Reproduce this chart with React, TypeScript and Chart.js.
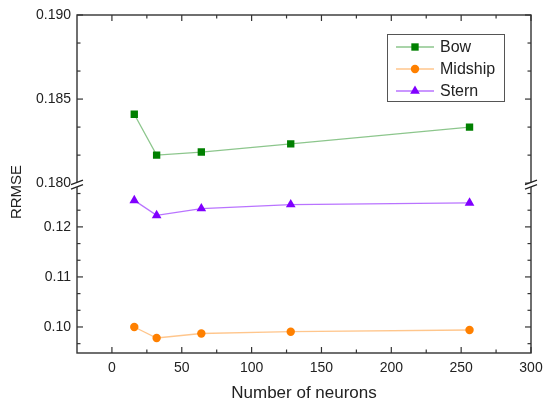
import React, { useEffect, useRef } from 'react';
import { Chart, registerables } from 'chart.js';

Chart.register(...registerables);

// ---- data ----
const neurons = [16, 32, 64, 128, 256];
const bowValues = [0.1841, 0.18167, 0.18185, 0.18234, 0.18333];
const midshipValues = [0.1, 0.0978, 0.0987, 0.09906, 0.0994];
const sternValues = [0.1253, 0.1223, 0.12366, 0.12446, 0.1248];
const seriesLabels = ['Bow', 'Midship', 'Stern'];

const xTicks = [0, 50, 100, 150, 200, 250, 300];
const upperTicks = [0.18, 0.185, 0.19];
const lowerTicks = [0.1, 0.11, 0.12];

const xTitle = 'Number of neurons';
const yTitle = 'RRMSE';

// ---- styles ----
const FONT = "'Liberation Sans', Arial, sans-serif";
const TEXT = '#222';
const AXIS = '#333';
const COLORS = ['#008000', '#ff8000', '#8000ff'];
const LINES = ['rgba(0,128,0,0.45)', 'rgba(255,128,0,0.45)', 'rgba(128,0,255,0.55)'];
const STYLES = ['rect', 'circle', 'triangle'];
const RADII = [5.2, 4.2, 5.6];

function drawMarker(ctx: CanvasRenderingContext2D, style: string, x: number, y: number, r: number, color: string) {
  ctx.save();
  ctx.fillStyle = color;
  ctx.beginPath();
  if (style === 'rect') {
    const s = Math.SQRT1_2 * r;
    ctx.rect(x - s, y - s, 2 * s, 2 * s);
  } else if (style === 'circle') {
    ctx.arc(x, y, r, 0, Math.PI * 2);
  } else {
    ctx.moveTo(x, y - r);
    ctx.lineTo(x + 0.866 * r, y + 0.5 * r);
    ctx.lineTo(x - 0.866 * r, y + 0.5 * r);
    ctx.closePath();
  }
  ctx.fill();
  ctx.restore();
}

const decorPlugin = {
  id: 'decor',
  afterDraw(chart: any) {
    const ctx: CanvasRenderingContext2D = chart.ctx;
    const ca = chart.chartArea;
    const xs = chart.scales.x;
    const yh = chart.scales.yHigh;
    const yl = chart.scales.yLow;
    const major = 6;
    const minor = 3.5;
    ctx.save();
    ctx.strokeStyle = AXIS;
    ctx.lineWidth = 1.4;
    const line = (x1: number, y1: number, x2: number, y2: number) => {
      ctx.beginPath();
      ctx.moveTo(x1, y1);
      ctx.lineTo(x2, y2);
      ctx.stroke();
    };
    ctx.strokeRect(ca.left, ca.top, ca.right - ca.left, ca.bottom - ca.top);

    // x ticks
    ctx.lineWidth = 1.2;
    const xStep = xTicks[1] - xTicks[0];
    for (const v of xTicks) {
      const p = xs.getPixelForValue(v);
      line(p, ca.bottom, p, ca.bottom - major);
      line(p, ca.top, p, ca.top + major);
    }
    for (let v = xTicks[0] - xStep / 2; v <= xs.max; v += xStep) {
      if (v <= xs.min || v >= xs.max) continue;
      const p = xs.getPixelForValue(v);
      line(p, ca.bottom, p, ca.bottom - minor);
      line(p, ca.top, p, ca.top + minor);
    }

    // y ticks
    const yTicksFor = (scale: any, majors: number[]) => {
      const step = majors[1] - majors[0];
      for (const v of majors) {
        const p = scale.getPixelForValue(v);
        line(ca.left, p, ca.left + major, p);
        line(ca.right, p, ca.right - major, p);
      }
      for (let v = majors[0] - step; v <= scale.max + 1e-9; v += step) {
        for (const k of [1, 2]) {
          const mv = v + (step * k) / 3;
          if (mv <= scale.min + 1e-6 || mv >= scale.max - 1e-6) continue;
          const p = scale.getPixelForValue(mv);
          line(ca.left, p, ca.left + minor, p);
          line(ca.right, p, ca.right - minor, p);
        }
      }
    };
    yTicksFor(yh, upperTicks);
    yTicksFor(yl, lowerTicks);

    // axis breaks
    const yb = yh.bottom;
    for (const x of [ca.left, ca.right]) {
      ctx.fillStyle = '#fff';
      ctx.beginPath();
      ctx.moveTo(x - 6, yb + 1.5);
      ctx.lineTo(x + 6, yb - 3);
      ctx.lineTo(x + 6, yb + 1.5);
      ctx.lineTo(x - 6, yb + 6);
      ctx.closePath();
      ctx.fill();
      ctx.lineWidth = 1.2;
      ctx.strokeStyle = '#222';
      line(x - 6, yb + 1.5, x + 6, yb - 3);
      line(x - 6, yb + 6, x + 6, yb + 1.5);
    }

    // legend
    const lx = 387, ly = 34, lw = 117, lh = 67;
    ctx.fillStyle = '#fff';
    ctx.fillRect(lx, ly, lw, lh);
    ctx.strokeStyle = '#555';
    ctx.lineWidth = 1;
    ctx.strokeRect(lx + 0.5, ly + 0.5, lw, lh);
    ctx.font = `16px ${FONT}`;
    ctx.textBaseline = 'middle';
    ctx.textAlign = 'left';
    const rows = [47, 69, 91];
    chart.data.datasets.forEach((ds: any, i: number) => {
      const y = rows[i];
      ctx.strokeStyle = LINES[i];
      ctx.lineWidth = 1.3;
      line(396, y, 434, y);
      drawMarker(ctx, STYLES[i], 415, y, RADII[i], COLORS[i]);
      ctx.fillStyle = TEXT;
      ctx.fillText(ds.label, 440, y + 1);
    });

    // axis titles
    ctx.fillStyle = TEXT;
    ctx.font = `17px ${FONT}`;
    ctx.textAlign = 'center';
    ctx.fillText(xTitle, 304, 393);
    ctx.save();
    ctx.translate(17, 192);
    ctx.rotate(-Math.PI / 2);
    ctx.font = `15px ${FONT}`;
    ctx.fillText(yTitle, 0, 0);
    ctx.restore();
    ctx.restore();
  },
};

export default function App() {
  const ref = useRef<HTMLCanvasElement>(null);
  useEffect(() => {
    if (!ref.current) return;
    const tickFont = { family: FONT, size: 14 };
    const mk = (label: string, data: number[], i: number, axis: string) => ({
      label,
      data: neurons.map((x, k) => ({ x, y: data[k] })),
      yAxisID: axis,
      borderColor: LINES[i],
      borderWidth: 1.3,
      backgroundColor: COLORS[i],
      pointStyle: STYLES[i],
      pointRadius: RADII[i],
      pointBackgroundColor: COLORS[i],
      pointBorderColor: COLORS[i],
      pointBorderWidth: 0,
      tension: 0,
      fill: false,
    });
    const chart = new Chart(ref.current, {
      type: 'line',
      data: {
        datasets: [
          mk(seriesLabels[0], bowValues, 0, 'yHigh'),
          mk(seriesLabels[1], midshipValues, 1, 'yLow'),
          mk(seriesLabels[2], sternValues, 2, 'yLow'),
        ],
      },
      options: {
        animation: false,
        responsive: false,
        devicePixelRatio: 1,
        layout: { padding: { top: 15, right: 13, left: 0, bottom: 0 } },
        plugins: { legend: { display: false }, tooltip: { enabled: false } },
        scales: {
          x: {
            type: 'linear',
            min: -25,
            max: 300,
            afterBuildTicks: (s: any) => {
              s.ticks = xTicks.map((v) => ({ value: v }));
            },
            afterFit: (s: any) => {
              s.height = 54;
              s.paddingLeft = 0;
              s.paddingRight = 0;
            },
            grid: { display: false, drawTicks: false },
            border: { display: false },
            ticks: {
              padding: 7,
              font: tickFont,
              color: TEXT,
              autoSkip: false,
              maxRotation: 0,
              callback: (v: any) => String(v),
            },
          },
          yLow: {
            type: 'linear',
            position: 'left',
            stack: 'y',
            stackWeight: 169.7,
            min: 0.0948,
            max: 0.12874,
            afterBuildTicks: (s: any) => {
              s.ticks = lowerTicks.map((v) => ({ value: v }));
            },
            afterFit: (s: any) => {
              s.width = 77;
              s.paddingTop = 0;
              s.paddingBottom = 0;
            },
            grid: { display: false, drawTicks: false },
            border: { display: false },
            ticks: {
              padding: 6,
              font: tickFont,
              color: TEXT,
              autoSkip: false,
              callback: (v: any) => Number(v).toFixed(2),
            },
          },
          yHigh: {
            type: 'linear',
            position: 'left',
            stack: 'y',
            stackWeight: 168,
            min: 0.18,
            max: 0.19,
            afterBuildTicks: (s: any) => {
              s.ticks = upperTicks.map((v) => ({ value: v }));
            },
            afterFit: (s: any) => {
              s.width = 77;
              s.paddingTop = 0;
              s.paddingBottom = 0;
            },
            grid: { display: false, drawTicks: false },
            border: { display: false },
            ticks: {
              padding: 6,
              font: tickFont,
              color: TEXT,
              autoSkip: false,
              callback: (v: any) => Number(v).toFixed(3),
            },
          },
        },
      } as any,
      plugins: [decorPlugin],
    });
    return () => chart.destroy();
  }, []);
  return (
    <div style={{ position: 'absolute', left: 0, top: 0, width: 544, height: 407 }}>
      <canvas ref={ref} width={544} height={407} style={{ display: 'block', width: 544, height: 407 }} />
    </div>
  );
}
